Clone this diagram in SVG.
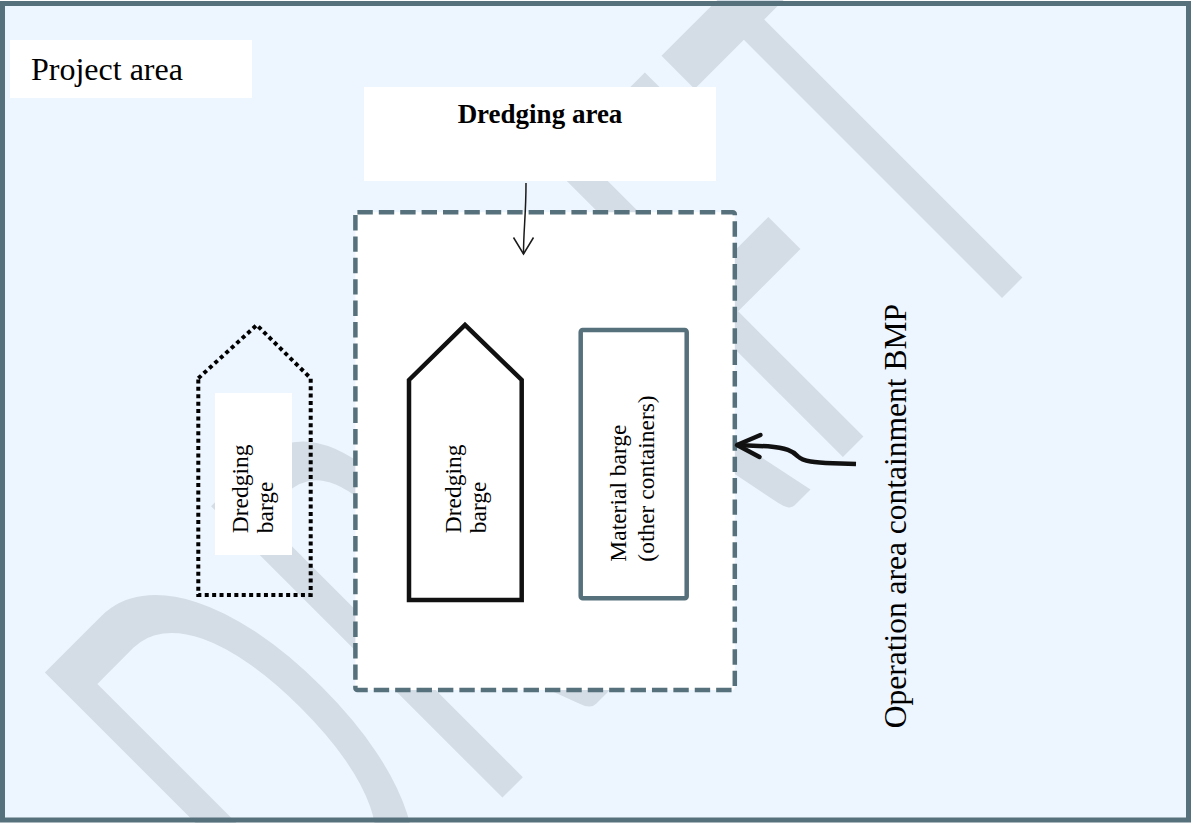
<svg xmlns="http://www.w3.org/2000/svg" width="1192" height="823" viewBox="0 0 1192 823">
<style>
.serif{font-family:"Liberation Serif","Times New Roman",serif;fill:#000}
.lbl{font-size:23.5px}
.wm{font-family:Lato,"Open Sans",sans-serif;font-size:575px;font-weight:400;fill:#D4DCE5}
.white{fill:#fff;stroke:none}
.slate{stroke:#56717B}
</style>
<defs>
<marker id="headThin" markerUnits="userSpaceOnUse" viewBox="-20 -12 24 24" markerWidth="24" markerHeight="24" refX="0" refY="0" orient="auto" overflow="visible">
<path d="M-16.5,-10 L0,0 L-16.5,10" fill="none" stroke="#1a1a1a" stroke-width="1.5"/>
</marker>
<marker id="headThick" markerUnits="userSpaceOnUse" viewBox="-30 -16 34 32" markerWidth="34" markerHeight="32" refX="0" refY="0" orient="auto" overflow="visible">
<path d="M-23,-11 L0,0 L-23,11" fill="none" stroke="#111" stroke-width="4.5" stroke-linecap="round" stroke-linejoin="round"/>
</marker>
</defs>

<g id="project-area-bg">
<rect x="2.5" y="3.5" width="1186" height="816.5" fill="#EDF5FE"/>
</g>

<g id="watermark">
<text class="wm" transform="translate(650,650) rotate(-45) scale(0.52,1)" x="-906 -454 49 472 815" y="0">DRAFT</text>
</g>

<g id="project-area-label">
<rect class="white" x="10" y="40" width="242" height="58"/>
<text class="serif" x="31" y="80" font-size="32">Project area</text>
</g>

<g id="dredging-area">
<rect class="white" x="364" y="87" width="352" height="94"/>
<text class="serif" x="540" y="123.3" font-size="27" font-weight="bold" text-anchor="middle">Dredging area</text>
</g>

<g id="operation-area">
<rect x="355.4" y="212.3" width="379.4" height="477.7" rx="2" fill="#fff" class="slate" stroke-width="4.5" stroke-dasharray="15.4 6"/>
</g>

<g id="dredging-barge-outside">
<path d="M198.3,378.3 L256.7,325 L310.7,378.3 L310.7,595 L198.3,595 Z" fill="none" stroke="#000" stroke-width="4" stroke-dasharray="4 3.4"/>
<rect class="white" x="215" y="393" width="77" height="162"/>
<text class="serif lbl" transform="rotate(-90)"><tspan x="-533.3" y="248.1">Dredging</tspan><tspan x="-533.3" y="273.4">barge</tspan></text>
</g>

<g id="dredging-barge">
<path d="M409,380 L465,325 L521.7,380 L521.7,600 L409,600 Z" fill="#fff" stroke="#111" stroke-width="4.5"/>
<text class="serif lbl" transform="rotate(-90)"><tspan x="-533.3" y="460.8">Dredging</tspan><tspan x="-533.3" y="485.6">barge</tspan></text>
</g>

<g id="material-barge">
<rect x="580.7" y="330" width="106" height="268.3" rx="2" fill="#fff" class="slate" stroke-width="4.5"/>
<text class="serif lbl" transform="rotate(-90)"><tspan x="-561.7" y="626">Material barge</tspan><tspan x="-561.7" y="654.2">(other containers)</tspan></text>
</g>

<g id="bmp-label">
<text class="serif" transform="rotate(-90)" x="-728.3" y="905.5" font-size="31.5">Operation area containment BMP</text>
</g>

<g id="connectors" fill="none">
<path d="M526,183 C526,215 523.5,230 523.5,254" stroke="#1a1a1a" stroke-width="1.5" marker-end="url(#headThin)"/>
<path d="M856,464 L833,463.3 C815,462.5 803,461.5 798,456.5 C793,451 786,448 768,446.3 L737,445" stroke="#111" stroke-width="4.5" marker-end="url(#headThick)"/>
</g>

<g id="project-area-border">
<rect x="2.5" y="3.5" width="1186" height="816.5" fill="none" class="slate" stroke-width="5"/>
</g>
</svg>
